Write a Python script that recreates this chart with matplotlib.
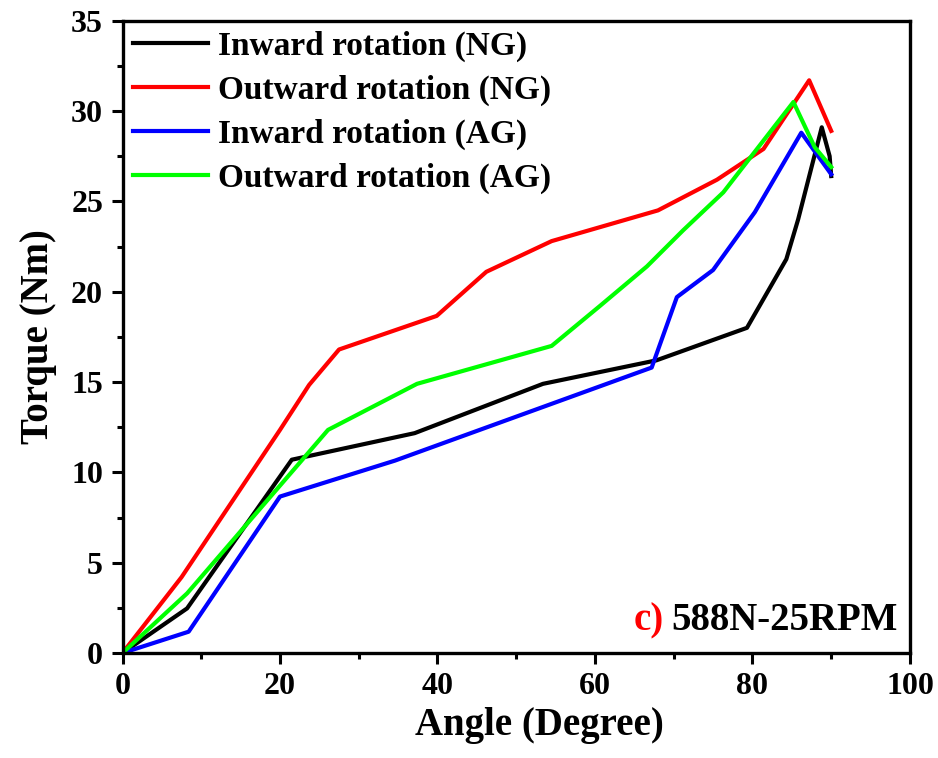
import numpy as np
import matplotlib.pyplot as plt
from matplotlib.ticker import MultipleLocator

plt.rcParams['font.family'] = ['Liberation Serif', 'DejaVu Serif']
plt.rcParams['font.weight'] = 'bold'

# Inward rotation (NG)
x_in_ng = [0, 8.2, 21.5, 37.1, 53.4, 67.8, 79.3, 84.3, 85.8, 88.8, 89.8, 90.0]
y_in_ng = [0, 2.47, 10.7, 12.17, 14.9, 16.2, 18.0, 21.8, 24.0, 29.1, 27.5, 26.4]
# Outward rotation (NG)
x_out_ng = [0, 7.5, 20.0, 23.7, 27.5, 39.9, 46.2, 54.5, 68.0, 75.5, 81.4, 87.2, 90.0]
y_out_ng = [0, 4.2, 12.35, 14.84, 16.8, 18.66, 21.1, 22.8, 24.5, 26.2, 27.9, 31.7, 28.9]
# Inward rotation (AG)
x_in_ag = [0, 8.4, 20.0, 34.6, 67.2, 70.4, 75.0, 80.3, 86.2, 90.0]
y_in_ag = [0, 1.18, 8.66, 10.65, 15.8, 19.7, 21.2, 24.4, 28.8, 26.5]
# Outward rotation (AG)
x_out_ag = [0, 8.2, 26.1, 37.4, 54.5, 60.6, 66.6, 71.2, 76.3, 85.2, 87.9, 90.0]
y_out_ag = [0, 3.3, 12.35, 14.9, 17.0, 19.2, 21.4, 23.4, 25.5, 30.5, 28.0, 26.9]

fig = plt.figure(figsize=(9.38, 7.58), dpi=100)
ax = fig.add_axes([0.1306, 0.1385, 0.8395, 0.8342])

lw = 3
ax.plot(x_in_ng, y_in_ng, color='black', lw=lw, label='Inward rotation (NG)')
ax.plot(x_out_ng, y_out_ng, color='#ff0000', lw=lw, label='Outward rotation (NG)')
ax.plot(x_in_ag, y_in_ag, color='#0000ff', lw=lw, label='Inward rotation (AG)')
ax.plot(x_out_ag, y_out_ag, color='#00ff00', lw=lw, label='Outward rotation (AG)')

ax.set_xlim(0, 100)
ax.set_ylim(0, 35)
ax.xaxis.set_major_locator(MultipleLocator(20))
ax.xaxis.set_minor_locator(MultipleLocator(10))
ax.yaxis.set_major_locator(MultipleLocator(5))
ax.yaxis.set_minor_locator(MultipleLocator(2.5))
ax.tick_params(which='major', direction='out', length=8, width=2.2, labelsize=23, pad=6)
ax.tick_params(which='minor', direction='out', length=4.5, width=2.2)
for lab in ax.get_xticklabels() + ax.get_yticklabels():
    lab.set_fontweight('bold')
for s in ax.spines.values():
    s.set_linewidth(2.4)

ax.set_xlabel('Angle (Degree)', fontsize=28, fontweight='bold', labelpad=14)
ax.xaxis.set_label_coords(0.53, -0.085)
ax.set_ylabel('Torque (Nm)', fontsize=28, fontweight='bold', labelpad=10)

leg = ax.legend(loc='upper left', frameon=False, handlelength=2.25,
                handletextpad=0.3, labelspacing=0.38, borderaxespad=0.0,
                borderpad=0.3, prop={'weight': 'bold', 'size': 24})

t = ax.text(0.985, 0.022, '588N-25RPM', transform=ax.transAxes, ha='right', va='bottom',
            fontsize=28, fontweight='bold', color='black')
ax.annotate('c)', xy=(0, 0), xycoords=t, xytext=(-6, 0), textcoords='offset points',
            ha='right', va='bottom', fontsize=28, fontweight='bold', color='#ff0000')

fig.savefig('out.png', dpi=100)
